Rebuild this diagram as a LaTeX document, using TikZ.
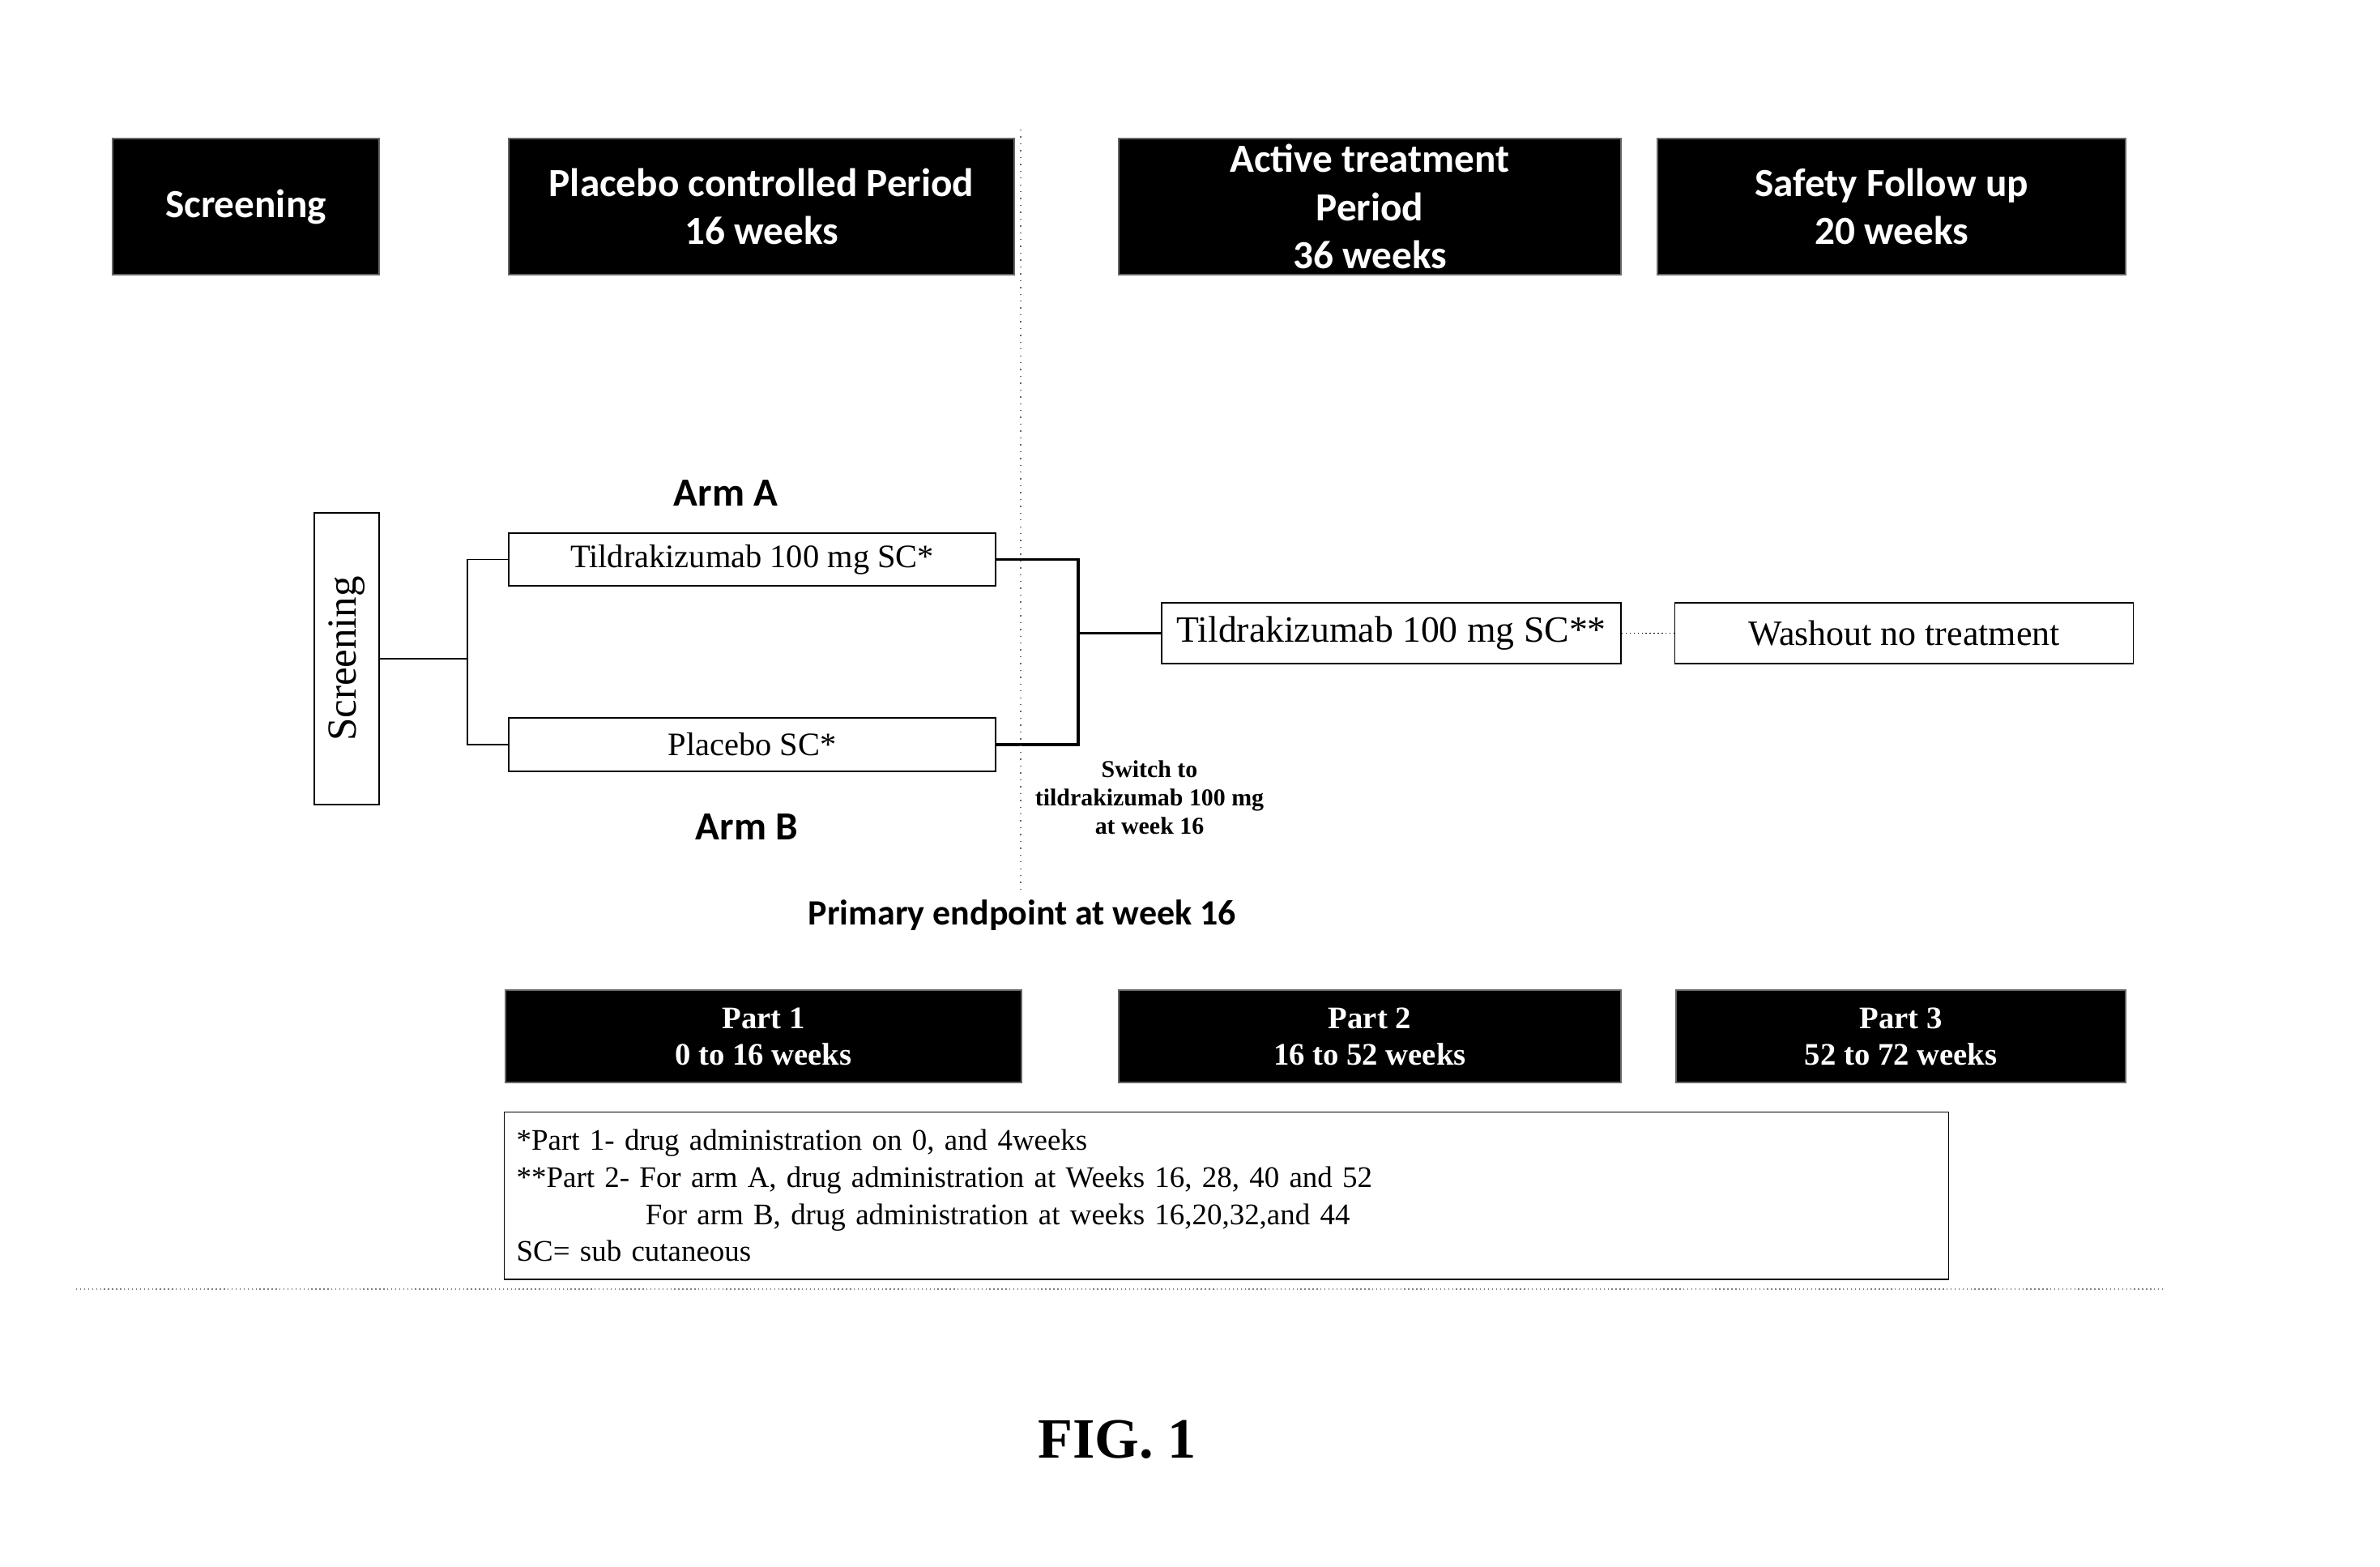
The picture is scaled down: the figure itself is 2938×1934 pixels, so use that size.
\documentclass[tikz,border=0pt]{standalone}
\usepackage{fontspec}
\setmainfont{Liberation Serif}
\newfontfamily\hdrfont{Carlito}
\usepackage{tikz}

\begin{document}
\begin{tikzpicture}[x=0.01cm,y=-0.01cm,thin,
   period box/.style={fill=black,draw=black!60,text=white,align=center,inner sep=0pt,
     minimum height=1.68cm,font=\hdrfont\fontsize{14}{17}\selectfont\bfseries},
   part box/.style={fill=black,draw=black!60,text=white,align=center,inner sep=0pt,
     minimum height=1.14cm,font=\fontsize{11}{12.8}\selectfont\bfseries},
   arm box/.style={draw,inner sep=0pt,font=\fontsize{11.5}{13}\selectfont},
   arm label/.style={font=\hdrfont\fontsize{14}{17}\selectfont\bfseries},
   bracket/.style={line width=1.1pt}]

  \useasboundingbox (0,0) rectangle (2938,1934);

  % periods
  \node[period box,minimum width=3.29cm] (scrhdr) at (303.5,255) {Screening};
  \node[period box,minimum width=6.24cm] (pcphdr) at (940,255) {Placebo controlled Period\\16 weeks};
  \node[period box,minimum width=6.20cm] (athdr) at (1691,255) {Active treatment\\Period\\36 weeks};
  \node[period box,minimum width=5.78cm] (sfhdr) at (2335,255) {Safety Follow up\\20 weeks};

  % arms
  \node[arm box,rotate=90,minimum width=3.6cm,minimum height=0.8cm,
        font=\fontsize{14.5}{16}\selectfont] (scr) at (428,813) {Screening};
  \node[arm label] (arma) at (896,609) {Arm A};
  \node[arm box,minimum width=6.01cm,minimum height=0.65cm] (tld1) at (928.5,690.5) {Tildrakizumab 100 mg SC*};
  \node[arm box,minimum width=6.01cm,minimum height=0.66cm] (plc) at (928.5,919) {Placebo SC*};
  \node[arm label] (armb) at (922,1021) {Arm B};
  \node[arm box,minimum width=5.67cm,minimum height=0.75cm,
        font=\fontsize{13}{15}\selectfont] (tld2) at (1717.5,781.5) {Tildrakizumab 100 mg SC**};
  \node[arm box,node distance=6.325cm,right of=tld2,minimum width=5.66cm,minimum height=0.75cm,
        font=\fontsize{12.5}{15}\selectfont] (wash) {Washout no treatment};
  \node[font=\fontsize{8.5}{10}\selectfont\bfseries,align=center] (switch) at (1419,984)
        {Switch to\\tildrakizumab 100 mg\\at week 16};

  \coordinate (fork) at (577,813);
  \coordinate (join) at (1331,781.5);
  \draw (scr.south) -- (fork);
  \draw (tld1.west) -| (fork) |- (plc.west);
  \draw[bracket] (tld1.east) -| (join) |- (plc.east);
  \draw[bracket] (join) -- (tld2.west);
  \draw[densely dotted] (tld2.east) -- (wash.west);

  % week 16
  \coordinate (wk16) at (1260,160);
  \node[font=\hdrfont\fontsize{12.5}{15}\selectfont\bfseries] (endpt) at (1262,1130) {Primary endpoint at week 16};
  \draw[dotted,black!60] (wk16) -- (wk16 |- endpt.north);

  % parts
  \node[part box,minimum width=6.37cm] (p1) at (942.5,1279) {Part 1\\0 to 16 weeks};
  \node[part box,minimum width=6.20cm] (p2) at (1691,1279) {Part 2\\16 to 52 weeks};
  \node[part box,minimum width=5.55cm] (p3) at (2346.5,1279) {Part 3\\52 to 72 weeks};

  \node[draw,anchor=north west,minimum height=2.06cm,text width=17.52cm,inner xsep=0.15cm,
        inner ysep=0pt,align=left,font=\fontsize{10.5}{13}\selectfont] (note) at (622,1372)
        {*Part 1- drug administration on 0, and 4weeks\\{}%
         **Part 2- For arm A, drug administration at Weeks 16, 28, 40 and 52\\
         \hspace*{1.59cm}For arm B, drug administration at weeks 16,20,32,and 44\\
         SC= sub cutaneous};

  \draw[densely dotted,black!50] (94,1591) -- (2670,1591);

  \node[font=\fontsize{20}{24}\selectfont\bfseries] (fig) at (1379,1777) {FIG. 1};
\end{tikzpicture}
\end{document}
